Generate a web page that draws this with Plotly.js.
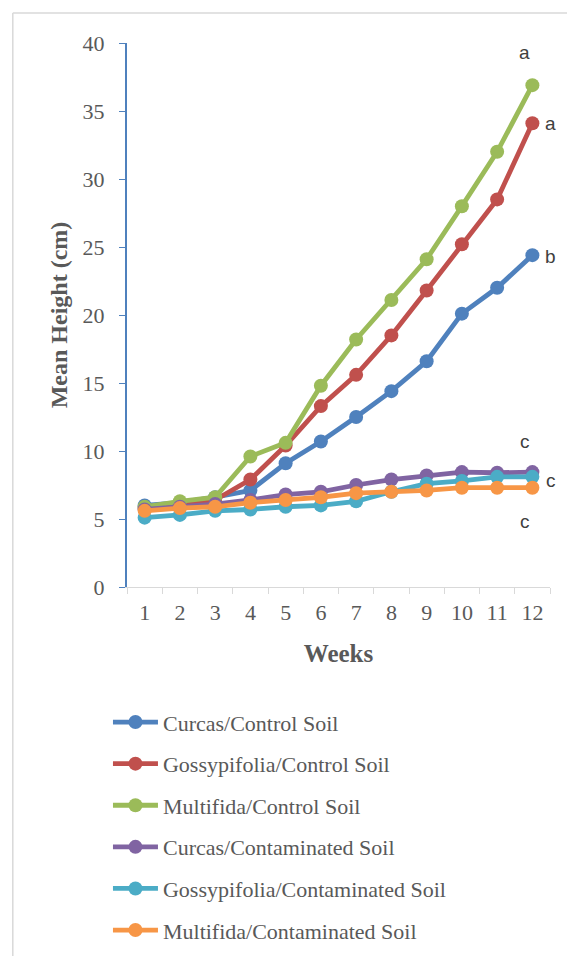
<!DOCTYPE html>
<html>
<head>
<meta charset="utf-8">
<script src="https://cdn.plot.ly/plotly-3.0.1.min.js"></script>
<style>html,body{margin:0;padding:0;background:#fff;}#chart{width:567px;height:956px;}</style>
</head>
<body>
<div id="chart"></div>
<script>
const weeks = ["1","2","3","4","5","6","7","8","9","10","11","12"];
const curcasControl = [6.0, 6.2, 6.6, 7.1, 9.1, 10.7, 12.5, 14.4, 16.6, 20.1, 22.0, 24.4];
const gossypifoliaControl = [5.8, 6.0, 6.4, 7.9, 10.4, 13.3, 15.6, 18.5, 21.8, 25.2, 28.5, 34.1];
const multifidaControl = [5.9, 6.3, 6.6, 9.6, 10.6, 14.8, 18.2, 21.1, 24.1, 28.0, 32.0, 36.9];
const curcasContaminated = [5.7, 5.9, 6.1, 6.4, 6.8, 7.0, 7.5, 7.9, 8.2, 8.45, 8.4, 8.45];
const gossypifoliaContaminated = [5.1, 5.3, 5.6, 5.7, 5.9, 6.0, 6.3, 7.0, 7.6, 7.8, 8.1, 8.1];
const multifidaContaminated = [5.6, 5.8, 5.9, 6.2, 6.4, 6.6, 6.9, 7.0, 7.1, 7.3, 7.3, 7.3];
const seriesNames = ["Curcas/Control Soil","Gossypifolia/Control Soil","Multifida/Control Soil","Curcas/Contaminated Soil","Gossypifolia/Contaminated Soil","Multifida/Contaminated Soil"];
const seriesColors = ["#4f81bd","#c0504d","#9bbb59","#8064a2","#4bacc6","#f79646"];
const seriesValues = [curcasControl, gossypifoliaControl, multifidaControl, curcasContaminated, gossypifoliaContaminated, multifidaContaminated];
const letters = ["a","a","b","c","c","c"];
// letter positions in category-index units (week 12 = index 11) and data units
const letterX = [11, 11.74, 11.74, 11, 11.74, 11];
const letterY = [39.3, 34.1, 24.3, 10.7, 7.8, 4.8];

const traces = seriesValues.map((vals, i) => ({
  type: 'scatter', mode: 'lines+markers', x: weeks, y: vals, name: seriesNames[i],
  legendgroup: 'g' + i,
  line: {color: seriesColors[i], width: 4.8},
  marker: {color: seriesColors[i], size: 14},
  cliponaxis: false
}));

const nCat = weeks.length;
const annotations = letters.map((t, i) => ({
  x: (letterX[i] + 0.5) / nCat, y: letterY[i], xref: 'paper', yref: 'y', text: t, showarrow: false,
  font: {family: 'Liberation Sans, Arial, sans-serif', size: 19, color: '#404040'}
}));

const layout = {
  width: 567, height: 956,
  margin: {l: 127, r: 17, t: 43, b: 369, autoexpand: false},
  paper_bgcolor: '#ffffff', plot_bgcolor: '#ffffff',
  font: {family: 'Liberation Serif, Times New Roman, serif', color: '#595959', size: 22},
  showlegend: true,
  xaxis: {
    type: 'category', tickson: 'boundaries', ticks: 'outside', ticklen: 6, tickcolor: '#d9d9d9',
    showline: true, linecolor: '#d9d9d9', linewidth: 1, showgrid: false, zeroline: false,
    tickfont: {family: 'Liberation Serif, serif', size: 22, color: '#595959'},
    ticklabelstandoff: 6,
    range: [-0.5, 11.5], fixedrange: true,
    title: {text: '<b>Weeks</b>', font: {family: 'Liberation Serif, serif', size: 25, color: '#595959'}, standoff: 20}
  },
  yaxis: {
    range: [0, 40], dtick: 5, ticks: 'outside', ticklen: 6, tickcolor: '#4f81bd',
    showline: true, linecolor: '#4f81bd', linewidth: 2, showgrid: false, zeroline: false,
    tickfont: {family: 'Liberation Serif, serif', size: 22, color: '#595959'},
    ticklabelstandoff: 10,
    title: {text: '<b>Mean Height (cm)</b>', font: {family: 'Liberation Serif, serif', size: 24, color: '#595959'}, standoff: 8}
  },
  legend: {
    x: -0.045, y: -0.21, xanchor: 'left', yanchor: 'top', orientation: 'v',
    traceorder: 'grouped', tracegroupgap: 10, itemwidth: 45,
    font: {family: 'Liberation Serif, serif', size: 22, color: '#595959'},
    bgcolor: 'rgba(0,0,0,0)'
  },
  annotations: annotations,
  shapes: [
    {type: 'line', xref: 'paper', yref: 'paper', x0: -0.270, x1: 1.1, y0: 1.055, y1: 1.055, line: {color: '#d9d9d9', width: 1.5}},
    {type: 'line', xref: 'paper', yref: 'paper', x0: -0.270, x1: -0.270, y0: 1.055, y1: -0.7, line: {color: '#d9d9d9', width: 1.5}}
  ]
};

Plotly.newPlot('chart', traces, layout, {displayModeBar: false, staticPlot: true});
</script>
</body>
</html>
